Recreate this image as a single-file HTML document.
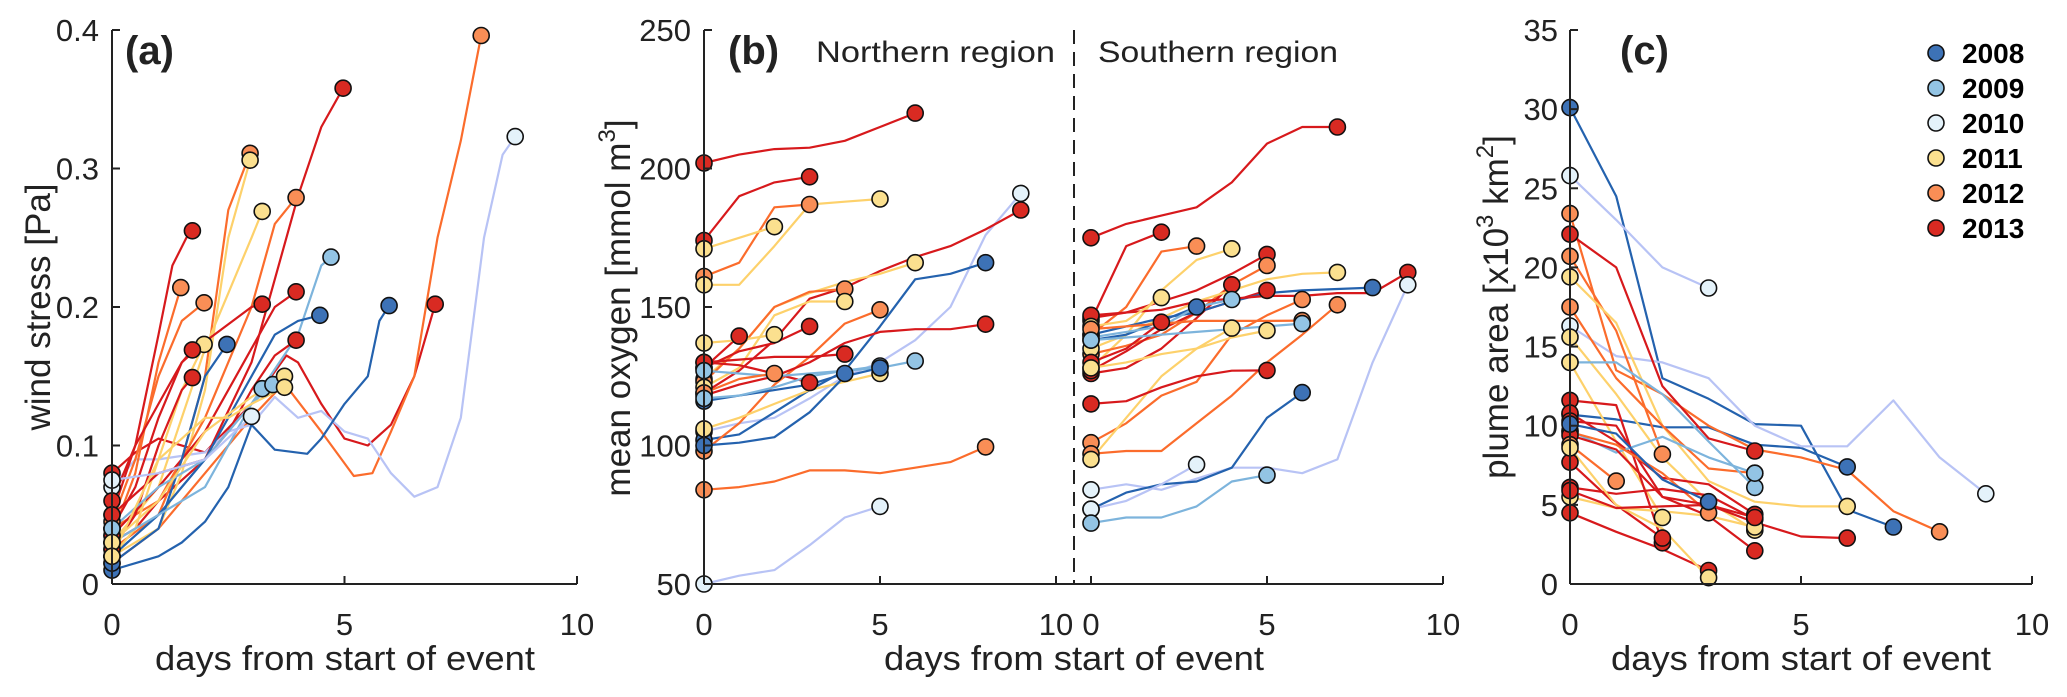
<!DOCTYPE html>
<html><head><meta charset="utf-8">
<style>
html,body{margin:0;padding:0;background:#fff;}
svg{display:block;font-family:"Liberation Sans",Arial,sans-serif;}
</style></head>
<body>
<svg id="chart" width="2067" height="697" viewBox="0 0 2067 697" xmlns="http://www.w3.org/2000/svg">
<rect x="0" y="0" width="2067" height="697" fill="#fff"/>
<g id="layer-lines"></g>
<g id="layer-marks"></g>
<g id="layer-axes"></g>
</svg>
<script>
// ---------- data ----------
const legendYears = [2008, 2009, 2010, 2011, 2012, 2013];
const aYTickVals = [0, 0.1, 0.2, 0.3, 0.4];
const aYTickLabels = ["0", "0.1", "0.2", "0.3", "0.4"];
const bYTickVals = [50, 100, 150, 200, 250];
const bYTickLabels = ["50", "100", "150", "200", "250"];
const cYTickVals = [0, 5, 10, 15, 20, 25, 30, 35];
const cYTickLabels = ["0", "5", "10", "15", "20", "25", "30", "35"];
const xTickVals = [0, 5, 10];
const xTickLabels = ["0", "5", "10"];

// panel (a) wind stress
const aYears = [2013,2012,2010,2008,2013,2012,2011,2011,2012,2013,2012,2012,2013,2009,2013,2008,2011,2008,2013,2013,2013,2009,2009,2011,2011,2010];
const aDays = [
[0,0.5,1,2,3,3.75,4,4.5,5,5.5,6,6.5,6.95],
[0,1,2,3,3.7,4.5,5.2,5.6,6,6.5,7,7.5,7.94],
[0,0.5,1,2,2.5,3,3.5,4,4.5,5,5.5,6,6.5,7,7.5,8,8.4,8.67],
[0,0.5,1,1.5,2,2.5,3,3.5,4.2,4.5,5,5.5,5.75,5.96],
[0,0.5,1,2,3,3.5,4,4.5,4.97],
[0,1,1.5,2,2.5,2.97],
[0,1,1.5,2,2.5,2.97],
[0,1,2,2.5,3,3.23],
[0,1,2,3,3.5,3.96],
[0,0.5,1,1.3,1.6,1.73],
[0,0.5,1,1.48],
[0,0.5,1,1.5,1.98],
[0,0.5,1,1.5,2,3,3.23],
[0,1,2,3,4,4.5,4.71],
[0,1,2,3,3.5,3.96],
[0,1,2,3,3.5,4,4.47],
[0,0.5,1,1.5,1.98],
[0,1,1.5,2,2.47],
[0,0.5,1,1.5,1.73],
[0,0.5,1,1.5,1.73],
[0,1,2,2.5,3,3.5,3.96],
[0,1,2,2.5,3,3.23],
[0,1,2,3,3.46],
[0,1,2,3,3.71],
[0,1,2,2.5,3,3.71],
[0,1,2,3]];
const aVals = [
[0.08,0.095,0.105,0.095,0.13,0.165,0.16,0.13,0.105,0.1,0.115,0.15,0.202],
[0.015,0.04,0.08,0.12,0.145,0.11,0.078,0.08,0.11,0.15,0.25,0.32,0.396],
[0.07,0.09,0.09,0.095,0.11,0.115,0.135,0.12,0.125,0.11,0.105,0.08,0.063,0.07,0.12,0.25,0.31,0.323],
[0.01,0.015,0.02,0.03,0.045,0.07,0.115,0.097,0.094,0.105,0.13,0.15,0.19,0.201],
[0.03,0.04,0.06,0.09,0.16,0.22,0.28,0.33,0.358],
[0.025,0.05,0.09,0.15,0.27,0.311],
[0.02,0.04,0.08,0.14,0.25,0.306],
[0.03,0.07,0.17,0.21,0.25,0.269],
[0.04,0.06,0.12,0.2,0.26,0.279],
[0.05,0.1,0.18,0.23,0.25,0.255],
[0.035,0.08,0.16,0.214],
[0.045,0.09,0.15,0.19,0.203],
[0.06,0.1,0.13,0.16,0.175,0.2,0.202],
[0.02,0.05,0.09,0.13,0.18,0.23,0.236],
[0.035,0.07,0.11,0.17,0.2,0.211],
[0.02,0.05,0.09,0.15,0.18,0.19,0.194],
[0.02,0.04,0.09,0.14,0.173],
[0.015,0.04,0.09,0.15,0.173],
[0.04,0.07,0.12,0.16,0.169],
[0.025,0.05,0.1,0.14,0.149],
[0.05,0.08,0.09,0.11,0.14,0.165,0.176],
[0.03,0.05,0.07,0.1,0.13,0.141],
[0.04,0.07,0.09,0.13,0.144],
[0.03,0.06,0.11,0.135,0.15],
[0.02,0.09,0.12,0.12,0.13,0.142],
[0.075,0.08,0.09,0.121]];

// panel (b) northern region, daily values (day = index)
const bNorthYears = [2013,2013,2012,2011,2011,2010,2013,2011,2008,2012,2011,2012,2013,2013,2013,2013,2013,2009,2008,2012,2011,2009,2012,2010,2008,2011];
const bNorthVals = [
[202,205,207,207.5,210,215,220],
[174,190,195,197],
[161,166,186,187],
[171,175,179],
[158,158,172,187,188,189],
[105,108,110,117,125,130,138,150,176,191],
[119,127,138,153,157,163,168,172,178,185],
[124,135,150,155,159,162,166],
[102,104,112,120,127,143,160,162,166],
[123,135,150,155.5,156.5],
[121,128,147,152,152],
[98,108,122,132,144,149],
[128,134,137,143],
[128,139.5],
[118,122,125,130,137,141,142,142,143.8],
[130,131,132,132,133],
[130,129,126,122.7],
[127,126,125,126,127,128,130.5],
[116,118,120,122,126],
[119,124,126],
[106,110,115,120,123,126],
[117,118,121,125,127,128.7],
[84,85,87,91,91,90,92,94,99.5],
[50,53,55,64,74,78],
[100,101,103,112,125,128],
[137,138,140]];

// panel (b) southern region
const bSouthYears = [2013,2013,2012,2011,2013,2012,2013,2013,2011,2008,2013,2010,2011,2008,2009,2012,2012,2013,2012,2009,2011,2011,2013,2008,2010,2009];
const bSouthVals = [
[175,180,183,186,195,209,215,215],
[145,172,177],
[140,150,170,172],
[128,140,156,167,171],
[146,148,152,156,162,169],
[133,136,140,148,158,165],
[126,128,135,146,158],
[127,134,142,148,152,156],
[135,140,146,152,156,160,162,162.5],
[140,143,146,148,152,155,156,156.5,157],
[147,148,149,152,153,154,154,155,155,162.5],
[84,86,84,88,92,92,90,95,130,158],
[143,145,153.4],
[138,140,145,150],
[139,141,143,150,152.7],
[101,108,118,123,140,147,152.7],
[97,98,98,108,118,130,140,150.8],
[130,135,144.5],
[142,143,144,145,145,145,145.1],
[138,139,140,141,142,143,144],
[95,110,125,135,142.4],
[128,130,133,135,139,141.5],
[115,116,121,125,127,127.1],
[77,83,86,87,92,110,119.1],
[77,80,86,93.1],
[72,74,74,78,87,89.3]];

// panel (c) plume area
const cYears = [2008,2008,2010,2010,2012,2013,2012,2011,2012,2011,2009,2011,2013,2013,2009,2013,2012,2013,2012,2013,2013,2011,2013,2011,2013,2008];
const cVals = [
[30.1,24.5,13,11.7,10.1,10,4.7,3.6],
[10.7,10.4,9.9,9.9,8.8,8.6,7.4],
[25.8,23,20,18.7],
[16.3,14.4,14,13,10,8.7,8.7,11.6,8,5.7],
[23.4,13.5,12,10,8.5,8,7.2,4.6,3.3],
[22.1,20,12.5,9.2,8.4],
[20.7,16,8.2],
[19.4,16.5,10,6.5,5.2,4.9,4.9],
[17.5,13,10,7.3,7.0],
[15.6,12,8,5.2,3.4],
[14,14,12,9,6.1],
[14,9,4.2],
[11.6,11.3,2.6],
[10.8,9,6.7,6.3,4.4],
[9.7,8.3,9.3,8,7],
[10.3,10,5.5,4.3,2.1],
[9.6,8.8,7,4.5],
[9.4,8.5,5.5,5,3.9,3,2.9],
[8.8,6.5],
[7.7,5,2.9],
[6.1,5.7,6,5.6,4.1],
[5.5,4.8,4.6,4.3,3.6],
[4.5,3.3,2.2,0.85],
[8.6,5,3.5,0.4],
[5.9,4.8,4.9,5,4.2],
[10.1,9.5,6.6,5.2]];

// ---------- styling ----------
const LINE = {2008:"#2462ae",2009:"#7db4dc",2010:"#b8c3f5",2011:"#fdd16b",2012:"#fb6c2c",2013:"#d7191c"};
const FILL = {2008:"#3d72b6",2009:"#93c4e4",2010:"#e4f2fa",2011:"#fbe08f",2012:"#f98e56",2013:"#d92a22"};
const NS = "http://www.w3.org/2000/svg";
const gLines = document.getElementById('layer-lines');
const gMarks = document.getElementById('layer-marks');
const gAxes = document.getElementById('layer-axes');

function el(tag, attrs, parent){
  const e = document.createElementNS(NS, tag);
  for (const k in attrs) e.setAttribute(k, attrs[k]);
  parent.appendChild(e);
  return e;
}
function lin(d0,d1,r0,r1){ return v => r0 + (v-d0)/(d1-d0)*(r1-r0); }

const Y0 = 584, Y1 = 30;
const axA = {x: lin(0,10,112,577), y: lin(0,0.4,Y0,Y1)};
const axBN = {x: lin(0,10,704,1056), y: lin(50,250,Y0,Y1)};
const axBS = {x: lin(0,10,1091,1443), y: lin(50,250,Y0,Y1)};
const axC = {x: lin(0,10,1570,2032), y: lin(0,35,Y0,Y1)};

function drawSeries(ax, year, days, vals, name){
  let d = "";
  for (let i=0;i<vals.length;i++){
    d += (i?"L":"M") + ax.x(days[i]).toFixed(1) + "," + ax.y(vals[i]).toFixed(1);
  }
  const p = el('path', {d:d, fill:"none", stroke:LINE[year], "stroke-width":2.2, "stroke-linejoin":"round"}, gLines);
  
  
  const ends = [0, vals.length-1];
  for (const i of ends){
    const c = el('circle', {cx:ax.x(days[i]).toFixed(1), cy:ax.y(vals[i]).toFixed(1), r:8, fill:FILL[year], stroke:"#111", "stroke-width":1.6}, gMarks);
    
    
  }
}

aVals.forEach((v,i)=>drawSeries(axA, aYears[i], aDays[i], v, 'wind-stress-' + aYears[i]));
bNorthVals.forEach((v,i)=>drawSeries(axBN, bNorthYears[i], v.map((_,j)=>j), v, 'north-oxygen-' + bNorthYears[i]));
bSouthVals.forEach((v,i)=>drawSeries(axBS, bSouthYears[i], v.map((_,j)=>j), v, 'south-oxygen-' + bSouthYears[i]));
cVals.forEach((v,i)=>drawSeries(axC, cYears[i], v.map((_,j)=>j), v, 'plume-area-' + cYears[i]));

// ---------- axes ----------
function text(x,y,str,attrs,name){
  const t = el('text', Object.assign({x:x,y:y,fill:"#222"}, attrs), gAxes);
  t.textContent = str;
  
  
  return t;
}
function yAxis(xPos, ys, vals, labels, name, gap){
  const l = el('line', {x1:xPos,y1:Y1,x2:xPos,y2:Y0,stroke:"#222","stroke-width":2}, gAxes);
  
  
  vals.forEach((v,i)=>{
    const y = ys(v);
    el('line', {x1:xPos,y1:y,x2:xPos+8,y2:y,stroke:"#222","stroke-width":2}, gAxes);
    text(xPos-gap, y+11, labels[i], {"font-size":31,"text-anchor":"end"}, name + '-tick-label');
  });
}
function xAxis(x0pos, x1pos, xs, name){
  const l = el('line', {x1:x0pos,y1:Y0,x2:x1pos,y2:Y0,stroke:"#222","stroke-width":2}, gAxes);
  
  
  xTickVals.forEach((v,i)=>{
    const x = xs(v);
    el('line', {x1:x,y1:Y0,x2:x,y2:Y0-8,stroke:"#222","stroke-width":2}, gAxes);
    text(x, 635, xTickLabels[i], {"font-size":31,"text-anchor":"middle"}, name + '-tick-label');
  });
}
yAxis(112, axA.y, aYTickVals, aYTickLabels, 'wind-stress-y-axis', 13);
xAxis(112, 577, axA.x, 'wind-stress-x-axis');
yAxis(704, axBN.y, bYTickVals, bYTickLabels, 'oxygen-y-axis', 13);
xAxis(704, 1443, axBN.x, 'oxygen-x-axis-north');
xTickVals.forEach((v,i)=>{
  const x = axBS.x(v);
  el('line', {x1:x,y1:Y0,x2:x,y2:Y0-8,stroke:"#222","stroke-width":2}, gAxes);
  text(x, 635, xTickLabels[i], {"font-size":31,"text-anchor":"middle"}, 'oxygen-x-axis-south-tick-label');
});
const dash = el('line', {x1:1074,y1:Y1,x2:1074,y2:Y0,stroke:"#222","stroke-width":2,"stroke-dasharray":"14,8"}, gAxes);


yAxis(1570, axC.y, cYTickVals, cYTickLabels, 'plume-area-y-axis', 12);
xAxis(1570, 2032, axC.x, 'plume-area-x-axis');

// axis titles
text(345, 670, "days from start of event", {"font-size":34,"text-anchor":"middle",textLength:380,lengthAdjust:"spacingAndGlyphs"}, 'wind-x-axis-title');
text(1074, 670, "days from start of event", {"font-size":34,"text-anchor":"middle",textLength:380,lengthAdjust:"spacingAndGlyphs"}, 'oxygen-x-axis-title');
text(1801, 670, "days from start of event", {"font-size":34,"text-anchor":"middle",textLength:380,lengthAdjust:"spacingAndGlyphs"}, 'plume-x-axis-title');
text(0, 0, "wind stress [Pa]", {"font-size":35,"text-anchor":"middle",transform:"translate(50,307) rotate(-90)"}, 'wind-y-axis-title');

const ty = el('text', {"font-size":35,"text-anchor":"middle",fill:"#222",transform:"translate(630,308) rotate(-90)"}, gAxes);


ty.innerHTML = 'mean oxygen [mmol m<tspan dy="-15" font-size="24">3</tspan><tspan dy="15">]</tspan>';

const tc = el('text', {"font-size":35,"text-anchor":"middle",fill:"#222",transform:"translate(1508,307) rotate(-90)"}, gAxes);


tc.innerHTML = 'plume area [x10<tspan dy="-15" font-size="24">3</tspan><tspan dy="15"> km</tspan><tspan dy="-15" font-size="24">2</tspan><tspan dy="15">]</tspan>';

// panel labels
text(125, 64, "(a)", {"font-size":40,"font-weight":"bold"}, 'panel-label-a');
text(728, 64, "(b)", {"font-size":40,"font-weight":"bold"}, 'panel-label-b');
text(1620, 64, "(c)", {"font-size":40,"font-weight":"bold"}, 'panel-label-c');
text(816, 62, "Northern region", {"font-size":30,textLength:239,lengthAdjust:"spacingAndGlyphs"}, 'northern-region-label');
text(1098, 62, "Southern region", {"font-size":30,textLength:240,lengthAdjust:"spacingAndGlyphs"}, 'southern-region-label');

// legend
legendYears.forEach((yr,i)=>{
  const y = 53 + i*35;
  const c = el('circle', {cx:1936, cy:y, r:8, fill:FILL[yr], stroke:"#111","stroke-width":1.6}, gAxes);
  
  
  text(1962, y+10, String(yr), {"font-size":28,"font-weight":"bold",fill:"#000"}, 'legend-entry-' + yr);
});
</script>
</body></html>
